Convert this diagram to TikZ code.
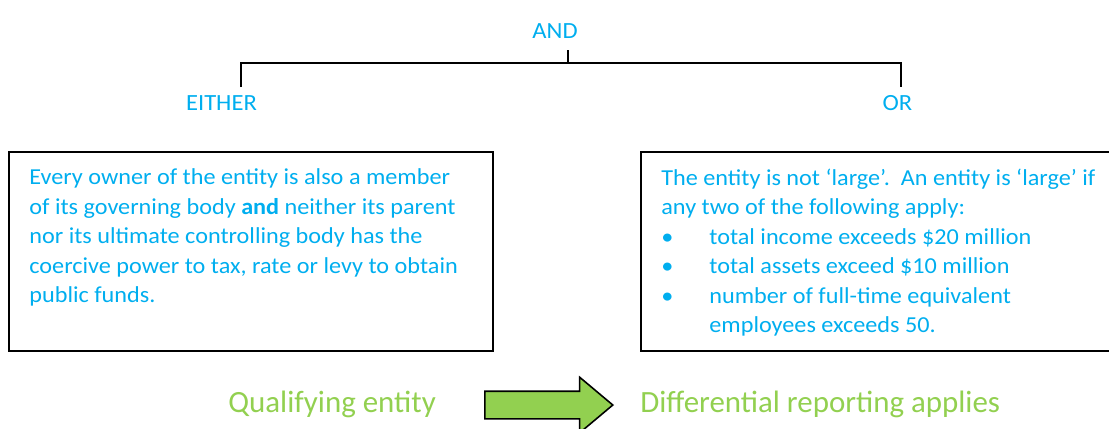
\documentclass[tikz,border=0pt]{standalone}
\usepackage{fontspec}
\setmainfont{Carlito}
\newfontfamily\widefont{Carlito}[FakeStretch=1.06]
\usetikzlibrary{positioning,shapes.arrows}

\definecolor{cyantext}{RGB}{0,174,239}
\definecolor{leafgreen}{RGB}{146,208,80}

\begin{document}
\begin{tikzpicture}[
  head/.style={text=cyantext, font={\widefont\fontsize{13.2}{15}\selectfont}, inner sep=0pt},
  frame/.style={draw, line width=1.1pt, minimum width=#1, minimum height=3.98cm, inner sep=0pt},
  body/.style={text=cyantext, font={\widefont\fontsize{13}{16.8}\selectfont}, align=left, inner sep=0pt},
  result/.style={text=leafgreen, font={\fontsize{17.6}{21}\selectfont}, inner sep=0pt},
  tree/.style={line width=1.1pt},
  bigarr/.style={single arrow, draw, fill=leafgreen, line width=0.9pt,
                 inner xsep=0pt, inner ysep=0.26cm,
                 minimum height=2.56cm, minimum width=1.08cm,
                 single arrow head extend=0.28cm, single arrow tip angle=80}
]
  \useasboundingbox (0,0) rectangle (22.18,-8.56);

  %-- Titres
  \node[head, anchor=base] (and)    at (11.10, -0.76) {AND};
  \node[head, anchor=base] (either) at (4.43,  -2.20) {EITHER};
  \node[head, anchor=base] (or)     at (17.95, -2.20) {OR};

  %-- Accolade
  \coordinate (stem) at (11.36, -1.00);
  \coordinate (fork) at (11.36, -1.26);
  \coordinate (lft)  at (4.82,  -1.74);
  \coordinate (rgt)  at (18.02, -1.74);
  \draw[tree] (stem) -- (fork);
  \draw[tree] (lft) |- (fork) -| (rgt);

  %-- Conditions
  \node[frame=9.68cm] (leftbox)  at (5.02,  -5.03) {};
  \node[frame=9.48cm] (rightbox) at (17.56, -5.03) {};

  \node[body, below right=0.35cm and 0.42cm of leftbox.north west] (owners)
    {Every owner of the entity is also a member\\
     of its governing body \textbf{and} neither its parent\\
     nor its ultimate controlling body has the\\
     coercive power to tax, rate or levy to obtain\\
     public funds.};

  \node[body, below right=0.35cm and 0.42cm of rightbox.north west] (size)
    {The entity is not ‘large’.\ \ An entity is ‘large’ if\\
     any two of the following apply:\\
     \makebox[0.96cm][l]{\textbullet}total income exceeds \$20 million\\
     \makebox[0.96cm][l]{\textbullet}total assets exceed \$10 million\\
     \makebox[0.96cm][l]{\textbullet}number of full-time equivalent\\
     \hspace*{0.96cm}employees exceeds 50.};

  %-- Résultat
  \node[result, anchor=base west] (qual) at (4.56,  -8.24) {Qualifying entity};
  \node[result, anchor=base west] (diff) at (12.80, -8.24) {Differential reporting applies};
  \node[bigarr, anchor=tail] (implies) at (9.68, -8.10) {};
\end{tikzpicture}
\end{document}
